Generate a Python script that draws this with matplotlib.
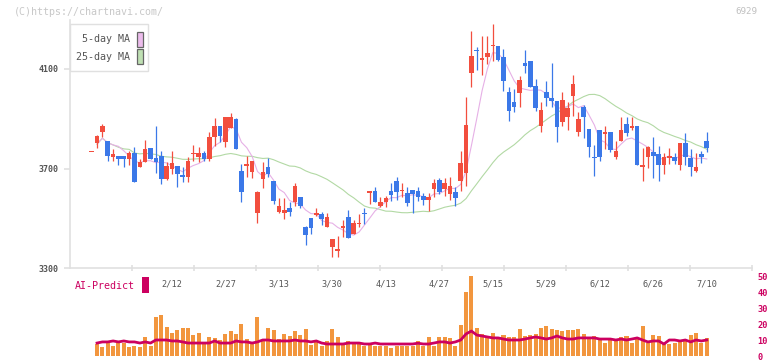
import numpy as np
import pandas as pd
import matplotlib
matplotlib.use("Agg")
import matplotlib.pyplot as plt
from matplotlib.patches import Rectangle

# ---------------- data ----------------
opens = [3767, 3802, 3846, 3809, 3745, 3749, 3749, 3737, 3763, 3705,
         3725, 3783, 3741, 3752, 3656, 3697, 3712, 3672, 3665, 3759,
         3745, 3764, 3737, 3826, 3872, 3806, 3862, 3897, 3688, 3709,
         3685, 3520, 3657, 3708, 3648, 3524, 3520, 3540, 3565, 3587,
         3463, 3503, 3515, 3518, 3464, 3384, 3370, 3460, 3507, 3437,
         3475, 3522, 3602, 3608, 3548, 3565, 3608, 3648, 3609, 3601,
         3612, 3608, 3591, 3575, 3616, 3652, 3616, 3597, 3605, 3648,
         3681, 4083, 4178, 4138, 4147, 4193, 4194, 4147, 4007, 3969,
         4003, 4125, 4134, 4032, 3870, 4007, 3984, 3973, 3886, 3906,
         3993, 3846, 3949, 3857, 3748, 3853, 3840, 3846, 3745, 3810,
         3877, 3864, 3869, 3708, 3745, 3768, 3759, 3716, 3741, 3748,
         3716, 3803, 3741, 3689, 3759, 3809]
highs = [3767, 3835, 3877, 3809, 3779, 3749, 3749, 3772, 3786, 3739,
         3813, 3783, 3869, 3772, 3725, 3770, 3712, 3705, 3745, 3796,
         3786, 3770, 3846, 3904, 3872, 3908, 3924, 3902, 3719, 3752,
         3732, 3609, 3725, 3741, 3648, 3581, 3581, 3567, 3642, 3587,
         3467, 3503, 3542, 3524, 3520, 3417, 3427, 3494, 3534, 3494,
         3518, 3542, 3608, 3625, 3585, 3591, 3641, 3665, 3642, 3625,
         3612, 3625, 3601, 3601, 3656, 3661, 3661, 3665, 3625, 3772,
         3989, 4251, 4190, 4231, 4231, 4279, 4194, 4181, 4027, 4018,
         4070, 4178, 4134, 4060, 3969, 4050, 4125, 3973, 4007, 3967,
         4074, 3926, 3957, 3857, 3796, 3853, 3869, 3846, 3810, 3909,
         3909, 3909, 3869, 3782, 3790, 3826, 3792, 3761, 3782, 3761,
         3803, 3843, 3779, 3763, 3772, 3846]
lows = [3767, 3782, 3826, 3729, 3729, 3716, 3705, 3716, 3645, 3705,
        3725, 3739, 3681, 3638, 3652, 3679, 3625, 3645, 3645, 3732,
        3725, 3732, 3732, 3792, 3806, 3786, 3862, 3778, 3565, 3665,
        3663, 3480, 3621, 3665, 3558, 3520, 3495, 3511, 3551, 3542,
        3394, 3437, 3511, 3471, 3464, 3346, 3343, 3424, 3420, 3437,
        3464, 3478, 3558, 3565, 3544, 3544, 3571, 3575, 3585, 3551,
        3522, 3571, 3555, 3531, 3585, 3598, 3591, 3575, 3548, 3609,
        3629, 4029, 4094, 4074, 4121, 4134, 4131, 4011, 3890, 3926,
        3946, 4083, 4027, 3930, 3846, 3953, 3949, 3806, 3870, 3853,
        3913, 3829, 3823, 3745, 3669, 3732, 3779, 3766, 3739, 3810,
        3829, 3853, 3716, 3648, 3701, 3663, 3648, 3676, 3719, 3719,
        3695, 3716, 3668, 3685, 3721, 3766]
closes = [3767, 3829, 3869, 3749, 3760, 3739, 3739, 3764, 3645, 3728,
          3780, 3739, 3725, 3659, 3709, 3724, 3676, 3665, 3732, 3763,
          3763, 3737, 3825, 3872, 3829, 3908, 3908, 3778, 3605, 3719,
          3732, 3605, 3684, 3676, 3570, 3551, 3535, 3524, 3628, 3548,
          3431, 3462, 3520, 3495, 3507, 3417, 3377, 3467, 3420, 3480,
          3480, 3516, 3608, 3565, 3567, 3581, 3595, 3605, 3612, 3561,
          3598, 3587, 3575, 3587, 3642, 3605, 3642, 3628, 3581, 3724,
          3873, 4154, 4171, 4143, 4163, 4198, 4138, 4050, 3930, 3946,
          4054, 4113, 4027, 3942, 3937, 3983, 3971, 3866, 3977, 3944,
          4040, 3897, 3906, 3786, 3743, 3745, 3846, 3776, 3772, 3853,
          3842, 3869, 3716, 3712, 3786, 3749, 3716, 3748, 3752, 3729,
          3803, 3748, 3705, 3708, 3748, 3782]
volumes = [np.nan, 7.5, 5.6, 8.1, 6.3, 8.1, 8.1, 5.6, 6.3, 5.6,
           11.9, 6.3, 24.4, 25.6, 18.1, 14.4, 16.3, 17.5, 17.5, 13.1,
           14.4, 7.5, 11.9, 11.3, 10.0, 13.8, 15.6, 13.8, 20.0, 10.6,
           8.8, 24.4, 10.0, 17.5, 16.3, 10.6, 13.8, 12.5, 15.6, 13.1,
           16.9, 6.9, 10.0, 6.3, 9.4, 16.9, 11.9, 7.5, 9.4, 7.5,
           7.5, 6.3, 7.5, 6.3, 6.5, 6.5, 5.0, 6.5, 6.5, 6.5,
           6.5, 9.2, 6.5, 11.9, 6.5, 11.9, 11.9, 11.3, 6.5, 19.6,
           40.0, 50.0, 17.5, 13.8, 11.3, 14.4, 11.3, 13.1, 11.9, 11.9,
           16.9, 12.5, 13.1, 13.8, 17.5, 18.8, 16.9, 16.3, 15.6, 16.3,
           16.3, 16.9, 13.8, 11.9, 12.5, 10.0, 8.1, 10.0, 10.6, 11.9,
           12.5, 8.1, 11.9, 18.8, 8.1, 13.1, 12.5, 7.5, 7.5, 8.1,
           10.0, 10.0, 13.1, 14.4, 8.1, 11.3]
ai_predict = [np.nan, 8.1, 8.8, 8.8, 9.4, 8.8, 9.4, 8.8, 8.8, 8.1,
              8.8, 8.1, 10.0, 10.0, 10.0, 9.4, 9.4, 8.8, 8.1, 8.1,
              8.1, 8.1, 8.1, 9.4, 8.1, 8.1, 8.1, 9.4, 8.8, 8.8,
              8.1, 8.8, 10.0, 10.0, 9.4, 9.4, 9.4, 9.4, 10.0, 9.4,
              9.4, 8.8, 9.4, 8.1, 7.5, 7.5, 7.5, 7.5, 8.1, 8.1,
              8.1, 7.5, 7.5, 8.1, 7.5, 7.5, 7.5, 7.5, 7.5, 7.5,
              7.5, 8.0, 7.5, 7.5, 8.1, 8.8, 8.8, 8.1, 8.8, 10.0,
              13.8, 15.6, 13.1, 12.5, 11.9, 11.3, 11.3, 10.6, 10.0, 10.0,
              10.0, 10.6, 11.3, 11.9, 11.3, 10.6, 11.3, 12.5, 11.3, 10.6,
              10.6, 11.3, 11.3, 11.3, 11.3, 10.6, 10.6, 10.6, 10.0, 10.6,
              10.0, 10.6, 11.3, 10.0, 8.8, 9.4, 9.4, 7.5, 10.0, 10.0,
              9.4, 10.0, 8.8, 10.0, 9.4, 10.0]
date_labels = ["2/12", "2/27", "3/13", "3/30", "4/13", "4/27",
               "5/15", "5/29", "6/12", "6/26", "7/10"]
date_label_idx = [15, 25, 35, 45, 55, 65, 75, 85, 95, 105, 115]
price_ticks = [3300, 3700, 4100]
vol_ticks = [0, 10, 20, 30, 40, 50]

# ---------------- styling ----------------
UP = "#f24e3e"
DOWN = "#3b78e8"
MA5_C = "#e6b0e6"
MA25_C = "#b2d9a4"
VOL_C = "#f2963e"
AI_C = "#cc0060"
MONO = "DejaVu Sans Mono"

W, H = 772, 361
fig = plt.figure(figsize=(W / 100, H / 100), dpi=100)
fig.patch.set_facecolor("white")

step_px = 5.348
x0_px = 91.7
xl = ((70 - x0_px) / step_px, (752 - x0_px) / step_px)

# main price axes
ax = fig.add_axes([70 / W, (H - 268) / H, 682 / W, 248 / H])
ax.set_facecolor("none")
ax.set_xlim(*xl)
ax.set_ylim(3300, 3300 + 248 * 400 / 99.5)

n = len(closes)
idx = np.arange(n)
o = np.array(opens, float)
c = np.array(closes, float)
hi = np.array(highs, float)
lo = np.array(lows, float)
up = c >= o
cols = np.where(up, UP, DOWN)

ax.vlines(idx, lo, hi, colors=cols, linewidth=0.9, zorder=3)
bottoms = np.minimum(o, c)
heights = np.maximum(np.abs(c - o), 4.5)
ax.bar(idx, heights, bottom=bottoms, width=0.86, color=cols, linewidth=0, zorder=4)

cs = pd.Series(closes, dtype=float)
ma5 = cs.rolling(5, min_periods=1).mean()
ma25 = cs.rolling(25, min_periods=1).mean()
ax.plot(idx[1:], ma25.values[1:], color=MA25_C, linewidth=0.8, zorder=2)
ax.plot(idx[1:], ma5.values[1:], color=MA5_C, linewidth=0.8, zorder=2)

for s in ["top", "right"]:
    ax.spines[s].set_visible(False)
for s in ["left", "bottom"]:
    ax.spines[s].set_color("#e0e0e0")
    ax.spines[s].set_linewidth(1.2)

ax.set_yticks(price_ticks)
ax.set_yticklabels([str(v) for v in price_ticks])
ax.tick_params(axis="y", length=4, width=1.2, color="#e0e0e0", pad=4,
               labelsize=6, labelcolor="#555555")
for t in ax.get_yticklabels():
    t.set_fontfamily(MONO)
    t.set_fontweight("bold")

major = [xl[0] + k / 11 * (xl[1] - xl[0]) for k in range(1, 12)]
ax.set_xticks(major)
ax.set_xticklabels([""] * len(major))
ax.set_xticks(date_label_idx, minor=True)
ax.set_xticklabels(date_labels, minor=True)
ax.tick_params(axis="x", which="major", length=4, width=1.2, color="#e0e0e0",
               direction="inout")
ax.tick_params(axis="x", which="minor", length=0, pad=8.5, labelsize=6.2,
               labelcolor="#555555")
for t in ax.get_xticklabels(minor=True):
    t.set_fontfamily(MONO)

# volume / AI-predict axes
vax = fig.add_axes([70 / W, (H - 356) / H, 682 / W, 86 / H])
vax.set_facecolor("none")
vax.set_xlim(*xl)
vax.set_ylim(0, 86 / 1.6)
vax.bar(idx, volumes, width=0.75, color=VOL_C, linewidth=0, zorder=2)
vax.plot(idx, ai_predict, color=AI_C, linewidth=2.0, zorder=3,
         solid_joinstyle="round")
for s in vax.spines.values():
    s.set_visible(False)
vax.set_xticks([])
vax.yaxis.tick_right()
vax.set_yticks(vol_ticks)
vax.set_yticklabels([str(v) for v in vol_ticks])
vax.tick_params(axis="y", length=0, pad=4, labelsize=6.2, labelcolor=AI_C)
for t in vax.get_yticklabels():
    t.set_fontfamily(MONO)
    t.set_fontweight("bold")

# decorations in pixel coordinates
ov = fig.add_axes([0, 0, 1, 1], zorder=10)
ov.set_xlim(0, W)
ov.set_ylim(H, 0)
ov.axis("off")
ov.patch.set_alpha(0)

ov.text(14, 12, "(C)https://chartnavi.com/", fontsize=7.2, family=MONO,
        color="#c8c8c8", ha="left", va="center")
ov.text(757, 12, "6929", fontsize=6.6, family=MONO, color="#c0c0c0",
        ha="right", va="center")

ov.add_patch(Rectangle((70, 24), 78, 47, facecolor="white",
                       edgecolor="#e0e0e0", linewidth=1.0))
ov.text(130, 39, "5-day MA", fontsize=7.2, family=MONO, color="#555555",
        ha="right", va="center")
ov.text(130, 57, "25-day MA", fontsize=7.2, family=MONO, color="#555555",
        ha="right", va="center")
ov.add_patch(Rectangle((136.5, 31.5), 6.5, 15, facecolor="#ecbcec",
                       edgecolor="#666666", linewidth=0.9))
ov.add_patch(Rectangle((136.5, 48.5), 6.5, 15, facecolor="#bfe0b3",
                       edgecolor="#666666", linewidth=0.9))

ov.text(75, 286, "AI-Predict", fontsize=7.2, family=MONO, color=AI_C,
        ha="left", va="center")
ov.add_patch(Rectangle((142, 277), 7, 16, facecolor=AI_C, edgecolor="none"))

fig.savefig("out.png", dpi=100)
